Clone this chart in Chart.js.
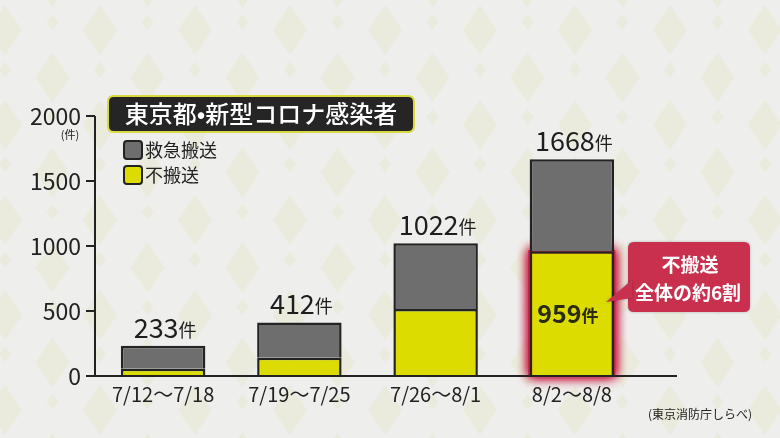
<!DOCTYPE html>
<html><head><meta charset="utf-8">
<script src="https://cdn.jsdelivr.net/npm/chart.js@4"></script>
<style>html,body{margin:0;padding:0;background:#eeeeec;}#wrap{width:780px;height:438px;position:relative;}</style>
</head><body><div id="wrap"><canvas id="c" width="780" height="438"></canvas></div>
<script>
const categories = ['7/12～7/18', '7/19～7/25', '7/26～8/1', '8/2～8/8'];
const totals = [233, 412, 1022, 1668];
const notTransported = [55, 140, 515, 959];
const transported = totals.map((t, i) => t - notTransported[i]);
const yTicks = [0, 500, 1000, 1500, 2000];
const titleText = '東京都•新型コロナ感染者';
const unitText = '件';
const calloutLines = ['不搬送', '全体の約6割'];
const sourceText = '(東京消防庁しらべ)';
const FONT = '"Noto Sans CJK JP", "Noto Sans", sans-serif';

function rr(ctx, x, y, w, h, r) {
  ctx.beginPath();
  ctx.moveTo(x + r, y); ctx.lineTo(x + w - r, y); ctx.quadraticCurveTo(x + w, y, x + w, y + r);
  ctx.lineTo(x + w, y + h - r); ctx.quadraticCurveTo(x + w, y + h, x + w - r, y + h);
  ctx.lineTo(x + r, y + h); ctx.quadraticCurveTo(x, y + h, x, y + h - r);
  ctx.lineTo(x, y + r); ctx.quadraticCurveTo(x, y, x + r, y); ctx.closePath();
}
function diamond(ctx, cx, cy, w, h) {
  ctx.beginPath(); ctx.moveTo(cx, cy - h / 2); ctx.lineTo(cx + w / 2, cy); ctx.lineTo(cx, cy + h / 2); ctx.lineTo(cx - w / 2, cy); ctx.closePath(); ctx.fill();
}

const bgPlugin = {
  id: 'bg',
  beforeDraw(chart) {
    const ctx = chart.ctx;
    ctx.save();
    ctx.fillStyle = '#eeeeec';
    ctx.fillRect(0, 0, chart.width, chart.height);
    ctx.fillStyle = '#eaebdc';
    const P = 95;
    for (let j = -1; j < 6; j++) {
      for (let i = -1; i < 10; i++) {
        const x = 5 + i * P, y = 30 + j * P;
        diamond(ctx, x, y, 34, 50);
        diamond(ctx, x + P / 2, y + P / 2, 34, 50);
        diamond(ctx, x + P / 2, y - 8, 12, 16);
        diamond(ctx, x, y + P / 2 - 8, 12, 16);
      }
    }
    ctx.restore();
  },
  beforeDatasetsDraw(chart) {
    const ctx = chart.ctx;
    const el = chart.getDatasetMeta(1).data[3];
    if (!el) return;
    ctx.save();
    const w = el.width;
    ctx.shadowColor = 'rgba(200,25,65,1)';
    ctx.shadowBlur = 11;
    ctx.fillStyle = 'rgba(195,35,70,1)';
    for (let k = 0; k < 3; k++) ctx.fillRect(el.x - w / 2 - 1, el.y - 1, w + 2, el.base - el.y + 2);
    ctx.restore();
  },
  afterDraw(chart) {
    const ctx = chart.ctx;
    const ca = chart.chartArea;
    const yS = chart.scales.y;
    ctx.save();
    // axes
    ctx.strokeStyle = '#222';
    ctx.lineWidth = 2;
    ctx.beginPath();
    ctx.moveTo(ca.left, yS.getPixelForValue(2000)); ctx.lineTo(ca.left, yS.getPixelForValue(0));
    ctx.lineTo(677, yS.getPixelForValue(0));
    ctx.stroke();
    // unit
    ctx.fillStyle = '#222';
    ctx.font = '11px ' + FONT;
    ctx.textAlign = 'center'; ctx.textBaseline = 'middle';
    ctx.fillText('(' + unitText + ')', 70, 135);
    // title
    rr(ctx, 108, 96, 306, 36, 6);
    ctx.fillStyle = '#252525'; ctx.fill();
    ctx.lineWidth = 2; ctx.strokeStyle = '#d8d840'; ctx.stroke();
    ctx.fillStyle = '#ffffff';
    ctx.font = '500 24px ' + FONT;
    ctx.textAlign = 'center'; ctx.textBaseline = 'middle';
    ctx.fillText(titleText, 261, 114);
    // legend
    const legendOrder = [0, 1];
    legendOrder.forEach((di, k) => {
      const ds = chart.data.datasets[di];
      const y = 150 + k * 25;
      rr(ctx, 124, y - 9, 18, 18, 3);
      ctx.fillStyle = ds.backgroundColor; ctx.fill();
      ctx.lineWidth = 2; ctx.strokeStyle = '#222'; ctx.stroke();
      ctx.fillStyle = '#222';
      ctx.font = '18px ' + FONT;
      ctx.textAlign = 'left'; ctx.textBaseline = 'middle';
      ctx.fillText(ds.label, 145, y);
    });
    // totals
    const topMeta = chart.getDatasetMeta(0);
    topMeta.data.forEach((el, i) => {
      const s = String(totals[i]);
      ctx.font = '27px ' + FONT;
      const w1 = ctx.measureText(s).width;
      ctx.font = '18px ' + FONT;
      const w2 = ctx.measureText(unitText).width;
      const x0 = el.x - (w1 + w2) / 2 + 2;
      const yb = el.y - 8;
      ctx.fillStyle = '#1e1e1e';
      ctx.textAlign = 'left'; ctx.textBaseline = 'alphabetic';
      ctx.font = '27px ' + FONT;
      ctx.fillText(s, x0, yb);
      ctx.font = '18px ' + FONT;
      ctx.fillText(unitText, x0 + w1, yb - 1);
    });
    // 959 label inside
    const ye = chart.getDatasetMeta(1).data[3];
    {
      const s = String(notTransported[3]);
      ctx.font = 'bold 25px ' + FONT;
      const w1 = ctx.measureText(s).width;
      ctx.font = 'bold 17px ' + FONT;
      const w2 = ctx.measureText(unitText).width;
      const x0 = ye.x - (w1 + w2) / 2 - 4;
      const yb = 323;
      ctx.fillStyle = '#2a2a10';
      ctx.textAlign = 'left'; ctx.textBaseline = 'alphabetic';
      ctx.font = 'bold 25px ' + FONT;
      ctx.fillText(s, x0, yb);
      ctx.font = 'bold 17px ' + FONT;
      ctx.fillText(unitText, x0 + w1, yb - 1);
    }
    // callout
    ctx.fillStyle = '#c8304e';
    ctx.shadowColor = 'rgba(0,0,0,0.25)'; ctx.shadowBlur = 3;
    rr(ctx, 628, 242, 122, 70, 6); ctx.fill();
    ctx.beginPath(); ctx.moveTo(632, 280); ctx.lineTo(606, 302); ctx.lineTo(632, 298); ctx.closePath(); ctx.fill();
    ctx.shadowBlur = 0;
    ctx.fillStyle = '#ffffff';
    ctx.font = 'bold 19px ' + FONT;
    ctx.textAlign = 'center'; ctx.textBaseline = 'middle';
    ctx.fillText(calloutLines[0], 690, 265);
    ctx.fillText(calloutLines[1], 688, 293);
    // source
    ctx.fillStyle = '#222';
    ctx.font = '12px ' + FONT;
    ctx.textAlign = 'center';
    ctx.fillText(sourceText, 700, 414);
    ctx.restore();
  }
};

new Chart(document.getElementById('c'), {
  type: 'bar',
  data: {
    labels: categories,
    datasets: [
      { label: '救急搬送', data: transported, backgroundColor: '#6e6e6e', borderColor: '#232323', borderWidth: 2.5, order: 1 },
      { label: '不搬送', data: notTransported, backgroundColor: '#dcdc00', borderColor: '#232323', borderWidth: 2.5, order: 0 }
    ]
  },
  options: {
    responsive: false,
    animation: false,
    layout: { padding: { left: 0, top: 116, right: 140, bottom: 22 } },
    plugins: { legend: { display: false }, tooltip: { enabled: false } },
    datasets: { bar: { categoryPercentage: 1, barPercentage: 0.62 } },
    scales: {
      x: {
        stacked: true,
        grid: { display: false },
        border: { display: false },
        ticks: { color: '#222', font: { family: FONT, size: 20 }, padding: -2, maxRotation: 0 },
        afterFit(s) { s.height = 40; }
      },
      y: {
        stacked: true,
        min: 0, max: 2000,
        afterBuildTicks(s) { s.ticks = yTicks.map(v => ({ value: v })); },
        grid: { drawOnChartArea: false, tickLength: 9, color: '#222', lineWidth: 2 },
        border: { display: false },
        ticks: { color: '#222', font: { family: FONT, size: 23 }, padding: 5, callback: v => String(v) },
        afterFit(s) { s.width = 95; }
      }
    }
  },
  plugins: [bgPlugin]
});
</script>
</body></html>
